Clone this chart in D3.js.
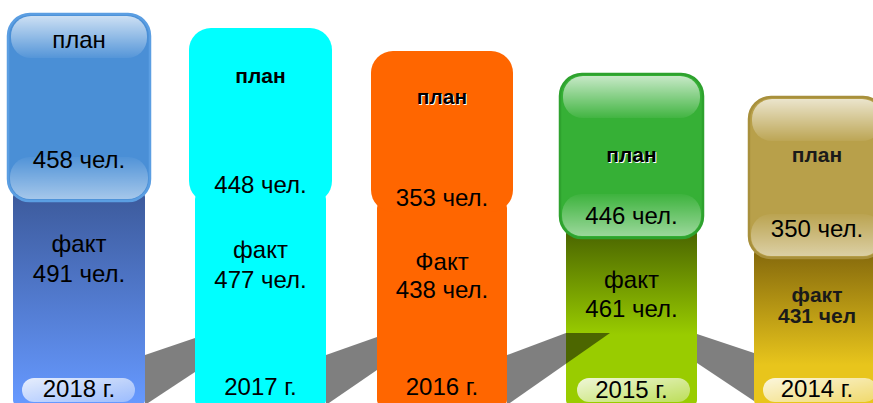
<!DOCTYPE html>
<html>
<head>
<meta charset="utf-8">
<script src="https://cdn.jsdelivr.net/npm/d3@7"></script>
<style>
  html, body { margin: 0; padding: 0; background: #fff; overflow: hidden; }
  svg { display: block; font-family: "Liberation Sans", Arial, sans-serif; }
</style>
</head>
<body>
<div id="chart"></div>
<script>
// --------------------------------------
//  Data
// --------------------------------------

const years = ["2018 г.", "2017 г.", "2016 г.", "2015 г.", "2014 г."];
const planValues = [458, 448, 353, 446, 350];
const factValues = [491, 477, 438, 461, 431];
const factWords = ["факт", "факт", "Факт", "факт", "факт"];
const factUnits = ["чел.", "чел.", "чел.", "чел.", "чел"];
const planWord = "план";
const planUnit = "чел.";

// --------------------------------------
//  Canvas
// --------------------------------------

const width = 873;
const height = 403;

const svg = d3.select("#chart")
  .append("svg")
    .attr("width", width)
    .attr("height", height)
    .attr("viewBox", `0, 0, ${width}, ${height}`);

// --------------------------------------
//  Layout (decoration of each column)
// --------------------------------------

const x = d3.scaleOrdinal().domain(years).range([8, 189, 371, 560, 749]);
const w = d3.scaleOrdinal().domain(years).range([142, 143, 142, 143, 136]);
const planTop = d3.scaleOrdinal().domain(years).range([14, 28, 51, 74, 97]);
const planBottom = d3.scaleOrdinal().domain(years).range([201, 203, 212, 238, 258]);
const inset = d3.scaleOrdinal().domain(years).range([5, 6, 6, 6, 5]);

const styles = [
  {base: "#4a8fd6", stroke: "#5b9ee2", factA: "#3d5b9d", factB: "#6699ff", gloss: true, bold: false, boldFact: false, shadow: false,
   ty: [48, 168, 252, 282, 397], pill: [14, 127]},
  {base: "#00ffff", stroke: null, factA: "#00ffff", factB: "#00ffff", gloss: false, bold: true, boldFact: false, shadow: false,
   ty: [83, 193, 258, 288, 395]},
  {base: "#ff6600", stroke: null, factA: "#ff6600", factB: "#ff6600", gloss: false, bold: true, boldFact: false, shadow: true,
   ty: [104, 206, 270, 298, 395]},
  {base: "#36b036", stroke: "#2ea22e", factA: "#4b6600", factB: "#99cc00", gloss: true, bold: true, boldFact: false, shadow: true,
   ty: [162, 224, 288, 317, 398], pill: [17, 130]},
  {base: "#b8a04a", stroke: "#a8903c", factA: "#866a0c", factB: "#e8c51c", gloss: true, bold: true, boldFact: true, shadow: false,
   ty: [162, 237, 302, 323, 397], pill: [14, 128], cx: 817}
];

const data = years.map((y, i) => ({
  year: y, plan: planValues[i], fact: factValues[i],
  factWord: factWords[i], factUnit: factUnits[i], i: i, s: styles[i]
}));

const factLeft = d => x(d.year) + inset(d.year);
const factRight = d => x(d.year) + w(d.year) - inset(d.year);
const centre = d => d.s.cx || x(d.year) + w(d.year) / 2;

// --------------------------------------
//  Gradients
// --------------------------------------

const defs = svg.append("defs");

data.forEach(d => {
  const g = defs.append("linearGradient")
    .attr("id", `fact${d.i}`)
    .attr("gradientUnits", "userSpaceOnUse")
    .attr("x1", 0).attr("x2", 0)
    .attr("y1", planBottom(d.year) - 5)
    .attr("y2", d.i === 3 ? 335 : (d.i === 4 ? 365 : 403));
  g.append("stop").attr("offset", "0%").attr("stop-color", d.s.factA);
  g.append("stop").attr("offset", "100%").attr("stop-color", d.s.factB);
});

const glossTop = defs.append("linearGradient")
  .attr("id", "glossTop").attr("x1", 0).attr("x2", 0).attr("y1", 0).attr("y2", 1);
glossTop.append("stop").attr("offset", "0%").attr("stop-color", "#fff").attr("stop-opacity", 0.72);
glossTop.append("stop").attr("offset", "100%").attr("stop-color", "#fff").attr("stop-opacity", 0.06);

const glossBottom = defs.append("linearGradient")
  .attr("id", "glossBottom").attr("x1", 0).attr("x2", 0).attr("y1", 0).attr("y2", 1);
glossBottom.append("stop").attr("offset", "0%").attr("stop-color", "#fff").attr("stop-opacity", 0.04);
glossBottom.append("stop").attr("offset", "100%").attr("stop-color", "#fff").attr("stop-opacity", 0.5);

const pillGrad = defs.append("linearGradient")
  .attr("id", "pillGrad").attr("x1", 0).attr("x2", 1).attr("y1", 0).attr("y2", 1);
pillGrad.append("stop").attr("offset", "0%").attr("stop-color", "#fff").attr("stop-opacity", 0.85);
pillGrad.append("stop").attr("offset", "100%").attr("stop-color", "#fff").attr("stop-opacity", 0.35);

// --------------------------------------
//  Fact bars
// --------------------------------------

svg.selectAll(".fact")
  .data(data)
  .join("rect")
    .attr("class", "fact")
    .attr("x", d => factLeft(d))
    .attr("y", d => planBottom(d.year) - 10)
    .attr("width", d => factRight(d) - factLeft(d))
    .attr("height", d => height + 3 - (planBottom(d.year) - 10))
    .attr("rx", 6)
    .attr("fill", d => `url(#fact${d.i})`);

// --------------------------------------
//  Grey ribbon between the columns
// --------------------------------------

const ribbon = [
  {a: 0, b: 1, ya: [355, 405], yb: [338, 372], tail: 0},
  {a: 1, b: 2, ya: [355, 405], yb: [337, 370], tail: 0},
  {a: 2, b: 3, ya: [355, 405], yb: [333, 333], tail: 44},
  {a: 3, b: 4, ya: [334, 363], yb: [353, 401], tail: 0}
];

svg.selectAll(".ribbon")
  .data(ribbon)
  .join("path")
    .attr("class", "ribbon")
    .attr("d", r => {
      const xa = factRight(data[r.a]);
      const xb = factLeft(data[r.b]);
      return d3.line()([
        [xa, r.ya[0]], [xb, r.yb[0]], [xb + r.tail, r.yb[0]],
        [r.tail ? xb + r.tail : xb, r.yb[1]], [xa, r.ya[1]]
      ]) + "Z";
    })
    .attr("fill", "#000")
    .attr("fill-opacity", 0.5);

// --------------------------------------
//  Plan boxes
// --------------------------------------

svg.selectAll(".plan")
  .data(data)
  .join("rect")
    .attr("class", "plan")
    .attr("x", d => x(d.year))
    .attr("y", d => planTop(d.year))
    .attr("width", d => w(d.year))
    .attr("height", d => planBottom(d.year) - planTop(d.year))
    .attr("rx", 22)
    .attr("fill", d => d.s.base)
    .attr("stroke", d => d.s.stroke || "none")
    .attr("stroke-width", 2.5);

const glossy = data.filter(d => d.s.gloss);

svg.selectAll(".glossTop")
  .data(glossy)
  .join("rect")
    .attr("class", "glossTop")
    .attr("x", d => x(d.year) + 3)
    .attr("y", d => planTop(d.year) + 2)
    .attr("width", d => w(d.year) - 6)
    .attr("height", 42)
    .attr("rx", 20)
    .attr("fill", "url(#glossTop)");

svg.selectAll(".glossBottom")
  .data(glossy)
  .join("rect")
    .attr("class", "glossBottom")
    .attr("x", d => x(d.year) + 2)
    .attr("y", d => planBottom(d.year) - 44)
    .attr("width", d => w(d.year) - 4)
    .attr("height", 42)
    .attr("rx", 20)
    .attr("fill", "url(#glossBottom)");

svg.selectAll(".pill")
  .data(data.filter(d => d.s.pill))
  .join("rect")
    .attr("class", "pill")
    .attr("x", d => x(d.year) + d.s.pill[0])
    .attr("y", 378)
    .attr("width", d => d.s.pill[1] - d.s.pill[0])
    .attr("height", 24)
    .attr("rx", 12)
    .attr("fill", "url(#pillGrad)");

// --------------------------------------
//  Labels
// --------------------------------------

const regular = 24;
const heavy = 21;
const labels = [];
data.forEach(d => {
  labels.push({d: d, text: planWord, y: d.s.ty[0], bold: d.s.bold, size: d.s.bold ? heavy : regular, shadow: d.s.shadow});
  labels.push({d: d, text: `${d.plan} ${planUnit}`, y: d.s.ty[1], bold: false, size: regular});
  labels.push({d: d, text: d.factWord, y: d.s.ty[2], bold: d.s.boldFact, size: d.s.boldFact ? heavy : regular});
  labels.push({d: d, text: `${d.fact} ${d.factUnit}`, y: d.s.ty[3], bold: d.s.boldFact, size: d.s.boldFact ? heavy : regular});
  labels.push({d: d, text: d.year, y: d.s.ty[4], bold: false, size: regular});
});

svg.selectAll(".shadow")
  .data(labels.filter(l => l.shadow))
  .join("text")
    .attr("class", "shadow")
    .attr("x", l => centre(l.d) + 1)
    .attr("y", l => l.y + 1)
    .attr("text-anchor", "middle")
    .attr("font-size", l => l.size)
    .attr("font-weight", "bold")
    .attr("fill", "#fff")
    .text(l => l.text);

svg.selectAll(".label")
  .data(labels)
  .join("text")
    .attr("class", "label")
    .attr("x", l => centre(l.d))
    .attr("y", l => l.y)
    .attr("text-anchor", "middle")
    .attr("font-size", l => l.size)
    .attr("font-weight", l => l.bold ? "bold" : "normal")
    .attr("fill", l => l.d.i === 4 && l.bold ? "#1a1a1a" : "#000")
    .text(l => l.text);
</script>
</body>
</html>
